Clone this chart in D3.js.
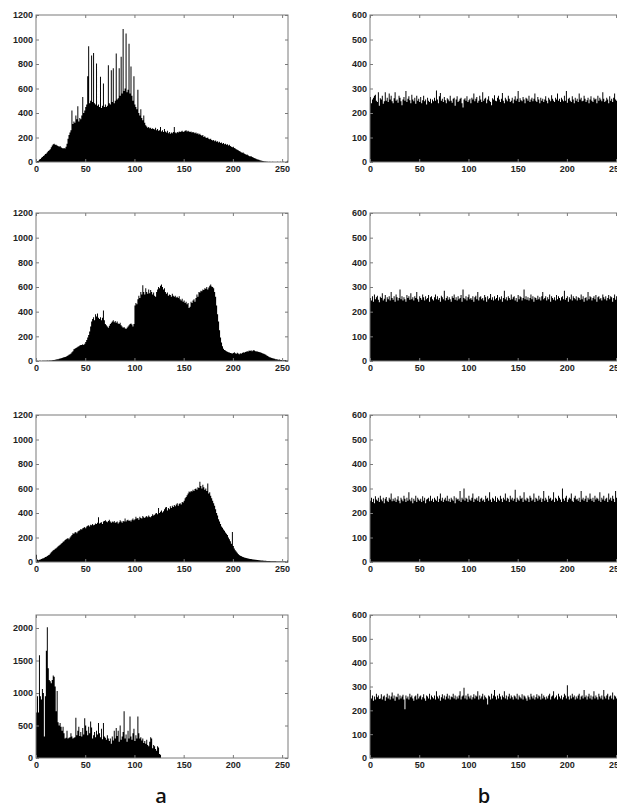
<!DOCTYPE html>
<html><head><meta charset="utf-8">
<script src="https://cdn.jsdelivr.net/npm/d3@7"></script>
<style>body{margin:0;background:#fff}</style>
</head><body><svg id="c" width="617" height="805"></svg>
<script>
// ---- data: 256-bin histograms ----
const a1=[5,8,10,20,25,35,40,50,55,65,70,80,90,95,105,120,
135,145,150,140,140,135,130,125,130,120,115,110,115,110,125,150,
190,220,240,260,420,310,330,320,380,350,455,330,360,350,380,530,
400,420,450,470,700,945,480,500,870,490,890,480,470,805,460,470,
450,695,440,460,640,450,470,450,460,790,480,470,750,490,765,480,
500,885,510,520,765,540,860,560,1085,580,600,1050,570,590,965,560,
780,540,500,700,470,450,430,590,400,380,430,360,340,380,320,300,
290,280,285,275,280,270,275,270,265,280,260,270,255,260,285,250,
260,245,270,250,240,255,235,245,230,240,235,245,285,240,235,245,
240,250,245,250,255,245,250,255,260,250,255,250,245,250,240,245,
240,235,240,230,235,225,230,220,215,220,205,210,200,195,200,190,
185,190,180,175,180,170,175,165,170,160,165,155,160,150,155,145,
150,140,145,135,140,130,125,120,125,115,110,105,100,95,90,85,
80,75,78,70,65,60,62,55,50,45,48,40,38,32,30,26,
22,20,18,15,12,10,8,7,5,4,3,2,1,2,1,1,
2,1,1,0,1,2,1,1,2,1,1,2,1,1,2,10];
const a2=[2,2,1,2,2,1,2,3,3,2,3,4,3,4,5,5,
6,8,8,10,12,14,15,18,20,22,25,28,30,32,35,40,
45,50,55,60,70,80,95,100,105,110,115,120,125,130,130,135,
130,140,155,170,190,210,240,280,320,340,355,330,380,360,385,350,
340,355,330,350,410,330,300,290,280,270,285,300,310,320,330,315,
325,310,320,305,300,310,290,280,270,275,265,260,270,280,290,300,
305,295,280,300,450,470,460,500,530,510,560,540,615,560,540,590,
560,545,580,550,575,560,540,555,530,520,560,580,600,590,610,620,
600,580,590,560,545,555,530,540,535,520,545,530,520,530,515,520,
510,525,500,490,505,480,490,470,480,460,470,430,440,480,470,490,
500,480,510,540,520,560,555,570,565,580,575,590,585,600,580,595,
610,620,605,600,590,560,520,450,380,320,250,190,150,120,100,90,
85,80,75,70,68,65,62,60,65,70,62,58,66,60,55,62,
58,65,70,66,72,75,80,78,85,82,88,80,85,90,82,78,
80,75,72,70,68,65,60,58,55,50,45,40,35,30,28,25,
22,20,18,15,14,12,10,12,9,8,10,7,6,8,5,4];
const a3=[60,20,15,18,20,25,28,30,35,40,42,48,55,60,70,80,
88,95,100,108,112,120,128,135,140,150,155,165,170,180,185,190,
195,185,200,210,220,235,230,240,245,235,250,255,260,270,265,275,
280,285,275,290,295,300,290,305,300,310,300,305,315,310,320,365,
315,320,325,310,330,335,340,330,325,335,345,330,320,330,325,335,
320,325,330,315,325,340,330,320,335,330,355,330,340,345,335,340,
330,345,355,340,350,370,355,360,345,370,360,355,375,365,360,370,
375,365,380,370,365,375,390,380,385,395,400,390,440,400,410,420,
405,415,430,445,450,420,440,430,455,440,460,450,465,455,470,480,
460,475,480,470,490,485,500,520,530,545,560,575,570,580,575,590,
580,595,600,590,610,605,655,620,600,630,610,590,600,580,640,560,
570,540,520,500,480,460,430,400,380,350,330,310,290,280,265,255,
240,230,220,200,185,170,150,245,130,110,95,85,75,65,58,52,
48,42,40,36,34,32,30,28,26,25,24,22,21,20,19,18,
17,16,15,14,13,12,12,11,10,10,9,9,8,8,7,7,
7,6,6,6,5,5,5,5,4,4,4,5,4,4,3,12];
const a4=[700,950,700,1580,950,900,1060,1000,330,950,1650,2010,1380,1200,1180,1150,
1200,1270,1250,1100,720,1030,550,500,540,480,420,480,380,300,310,420,
300,310,320,380,330,300,310,320,620,350,420,480,340,400,330,460,
360,610,500,420,350,480,380,560,470,300,350,400,320,420,360,540,
380,320,450,290,540,330,310,280,350,300,260,300,220,330,270,420,
300,460,340,420,250,500,280,330,400,720,300,360,250,420,300,640,
330,280,380,450,260,350,300,640,380,300,320,270,300,230,260,220,
280,200,180,250,320,300,150,200,180,140,110,180,160,60,50,0,
0,0,0,0,0,0,0,0,0,0,0,0,0,0,0,0,
0,0,0,0,0,0,0,0,0,0,0,0,0,0,0,0,
0,0,0,0,0,0,0,0,0,0,0,0,0,0,0,0,
0,0,0,0,0,0,0,0,0,0,0,0,0,0,0,0,
0,0,0,0,0,0,0,0,0,0,0,0,0,0,0,0,
0,0,0,0,0,0,0,0,0,0,0,0,0,0,0,0,
0,0,0,0,0,0,0,0,0,0,0,0,0,0,0,0,
0,0,0,0,0,0,0,0,0,0,0,0,0,0,0,0];
const b1=[265,240,255,262,270,275,250,245,285,230,260,255,270,238,248,285,
250,262,245,280,255,270,248,240,260,285,250,255,242,270,262,248,
232,255,265,250,290,245,258,268,252,240,275,255,248,262,238,270,
250,258,245,265,240,252,270,248,255,235,262,250,245,258,240,255,
248,262,250,292,255,240,268,282,250,258,245,265,252,240,260,255,
248,270,250,242,258,262,230,255,268,245,250,258,262,240,222,255,
260,250,268,245,252,258,240,262,255,280,248,258,265,242,250,270,
255,245,285,250,258,262,240,255,268,250,245,232,260,255,272,250,
248,262,270,255,245,258,282,250,240,262,255,248,270,258,245,250,
262,240,255,268,250,258,290,245,260,252,248,265,255,240,262,258,
250,270,245,255,262,248,258,280,250,245,265,255,240,262,250,258,
245,255,268,250,240,262,255,248,272,258,250,245,262,255,280,250,
258,245,262,255,248,270,250,290,242,258,262,250,245,268,255,240,
262,250,258,245,280,255,262,248,250,270,258,245,252,262,240,255,
268,250,245,262,255,258,240,270,250,262,255,248,285,258,245,250,
262,255,240,268,250,258,245,262,280,255,250,270,245,258,262,275];
const b2=[255,245,262,240,270,250,258,265,248,238,260,255,275,245,252,268,
240,258,250,262,245,280,255,248,262,240,270,258,245,255,290,250,
262,245,258,250,240,268,255,262,248,275,250,258,245,262,255,280,
250,240,262,255,248,270,258,245,262,250,255,268,240,258,262,250,
245,258,270,250,262,248,255,240,265,258,250,285,245,255,262,248,
258,250,240,262,255,270,248,258,245,262,250,255,268,240,290,255,
250,262,245,258,270,250,255,248,262,240,258,265,250,280,245,258,
262,250,255,245,268,258,240,262,250,255,272,248,258,245,262,250,
255,268,245,258,250,262,240,255,285,250,258,245,262,255,248,270,
250,258,262,245,255,240,268,250,262,258,245,255,290,250,262,248,
258,245,255,270,250,262,240,258,255,248,265,250,258,245,262,280,
250,255,262,245,258,250,270,240,262,255,248,258,245,268,250,262,
255,245,258,262,250,285,248,255,262,240,258,250,270,245,262,255,
250,262,245,258,255,248,270,250,262,240,255,258,245,280,250,262,
258,245,255,262,250,268,240,258,262,250,255,245,270,258,250,262,
245,255,268,250,262,258,240,255,270,248,262,255,245,258,262,270];
const b3=[250,262,245,258,240,268,255,250,262,245,270,255,248,262,240,258,
265,250,245,262,255,280,248,258,250,262,245,255,268,250,240,262,
255,248,270,258,245,262,250,285,255,248,262,240,258,250,270,245,
262,255,250,258,245,268,250,262,240,255,258,262,248,270,250,258,
245,262,255,250,268,245,258,280,250,262,245,255,262,250,270,248,
258,245,262,255,250,268,240,262,255,258,250,290,245,262,255,300,
250,262,258,245,270,255,250,262,280,245,258,255,262,250,268,245,
258,262,250,255,245,270,258,262,250,285,255,245,262,258,250,268,
245,262,255,250,270,258,245,262,255,280,250,262,258,245,270,255,
262,250,258,295,245,262,255,250,270,258,262,245,285,255,250,262,
258,245,270,262,250,255,280,245,262,258,250,270,255,262,245,258,
290,250,262,255,245,270,258,262,250,255,285,245,262,258,250,270,
262,255,245,300,258,250,262,270,245,255,262,258,280,250,245,262,
270,255,258,250,262,245,290,255,262,250,258,270,245,262,255,280,
258,250,262,245,270,255,262,258,250,285,245,262,255,270,250,258,
262,245,280,255,262,250,270,258,245,290,262,255,250,270,262,280];
const b4=[285,250,262,240,258,245,270,255,262,248,250,268,245,258,262,240,
255,270,250,262,245,258,275,250,262,240,258,255,270,245,262,250,
258,265,245,205,262,250,258,245,270,255,262,250,240,258,262,245,
270,250,258,262,245,255,268,250,240,262,258,250,270,245,262,255,
250,262,245,280,258,250,262,240,255,268,250,262,245,258,270,250,
262,245,258,255,270,250,262,245,258,250,262,280,245,258,262,295,
250,262,245,270,258,250,262,245,255,268,250,262,258,280,245,262,
250,258,270,245,262,255,250,225,262,258,245,270,250,262,285,258,
245,262,250,270,258,245,262,255,280,250,262,245,258,270,250,262,
255,245,262,258,250,270,245,262,255,250,268,245,262,258,250,240,
262,255,245,270,258,250,262,245,255,268,250,262,258,245,270,250,
262,255,245,258,250,262,270,245,258,262,280,250,255,262,245,270,
258,250,262,245,255,270,262,250,305,258,245,262,250,270,255,262,
245,258,250,262,270,245,258,262,250,285,255,262,245,258,270,250,
262,245,258,280,250,262,255,245,270,258,250,262,245,285,258,250,
262,270,245,258,262,250,275,245,262,258,250,270,262,245,258,262];

const xTicks=[0,50,100,150,200,250];
const yTicksA=[0,200,400,600,800,1000,1200];
const yTicksA4=[0,500,1000,1500,2000];
const yTicksB=[0,100,200,300,400,500,600];
const yMaxA=1200, yMaxA4=2200, yMaxB=600, xMax=256;
const columnLabels=["a","b"];

// ---- layout ----
const svg=d3.select("#c");
const cols=[{x0:36,x1:288},{x0:370,x1:622}];
const rows=[{t:15,b:162},{t:213,b:361},{t:415,b:562},{t:615,b:758}];
const panels=[
 {col:0,row:0,data:a1,ymax:yMaxA,yt:yTicksA},
 {col:0,row:1,data:a2,ymax:yMaxA,yt:yTicksA},
 {col:0,row:2,data:a3,ymax:yMaxA,yt:yTicksA},
 {col:0,row:3,data:a4,ymax:yMaxA4,yt:yTicksA4},
 {col:1,row:0,data:b1,ymax:yMaxB,yt:yTicksB},
 {col:1,row:1,data:b2,ymax:yMaxB,yt:yTicksB},
 {col:1,row:2,data:b3,ymax:yMaxB,yt:yTicksB},
 {col:1,row:3,data:b4,ymax:yMaxB,yt:yTicksB}
];
const boxColor="#7a7a7a", textColor="#1e1e1e";
const fmt=d3.format("d");

function styleAxis(g){
  g.select(".domain").remove();
  g.selectAll(".tick line").attr("stroke",boxColor);
  g.selectAll(".tick text").attr("fill",textColor)
   .attr("font-family","'Liberation Sans', Arial, sans-serif")
   .attr("font-weight","bold").attr("font-size","9px");
}

panels.forEach(p=>{
  const c=cols[p.col], r=rows[p.row];
  const x=d3.scaleLinear().domain([0,xMax]).range([c.x0,c.x1]);
  const y=d3.scaleLinear().domain([0,p.ymax]).range([r.b,r.t]);
  const g=svg.append("g");
  // histogram drawn as a stepped area (one bin per grey level)
  const pts=p.data.map((v,i)=>({i,v})).concat([{i:p.data.length,v:p.data[p.data.length-1]}]);
  const area=d3.area().curve(d3.curveStepAfter)
    .x(d=>x(d.i)).y0(y(0)).y1(d=>y(d.v));
  g.append("path").datum(pts).attr("d",area).attr("fill","#000");
  g.append("rect").attr("x",c.x0).attr("y",r.t).attr("width",c.x1-c.x0).attr("height",r.b-r.t)
   .attr("fill","none").attr("stroke",boxColor).attr("stroke-width",1);
  g.append("g").attr("transform",`translate(0,${r.b})`)
   .call(d3.axisBottom(x).tickValues(xTicks).tickFormat(fmt).tickSizeInner(-3).tickSizeOuter(0).tickPadding(4))
   .call(styleAxis);
  g.append("g").attr("transform",`translate(0,${r.t})`)
   .call(d3.axisTop(x).tickValues(xTicks).tickSizeInner(-3).tickSizeOuter(0).tickFormat(""))
   .call(styleAxis);
  g.append("g").attr("transform",`translate(${c.x0},0)`)
   .call(d3.axisLeft(y).tickValues(p.yt).tickFormat(fmt).tickSizeInner(-3).tickSizeOuter(0).tickPadding(3))
   .call(styleAxis);
  g.append("g").attr("transform",`translate(${c.x1},0)`)
   .call(d3.axisRight(y).tickValues(p.yt).tickSizeInner(-3).tickSizeOuter(0).tickFormat(""))
   .call(styleAxis);
});

svg.selectAll("text.col-label").data(columnLabels).join("text")
 .attr("class","col-label")
 .attr("x",(d,i)=>(cols[i].x0+cols[i].x1)/2 - (i?12:1))
 .attr("y",803).attr("text-anchor","middle")
 .attr("font-family","'Open Sans', sans-serif").attr("font-weight","600")
 .attr("font-size","20px").attr("fill","#111").text(d=>d);
</script></body></html>
